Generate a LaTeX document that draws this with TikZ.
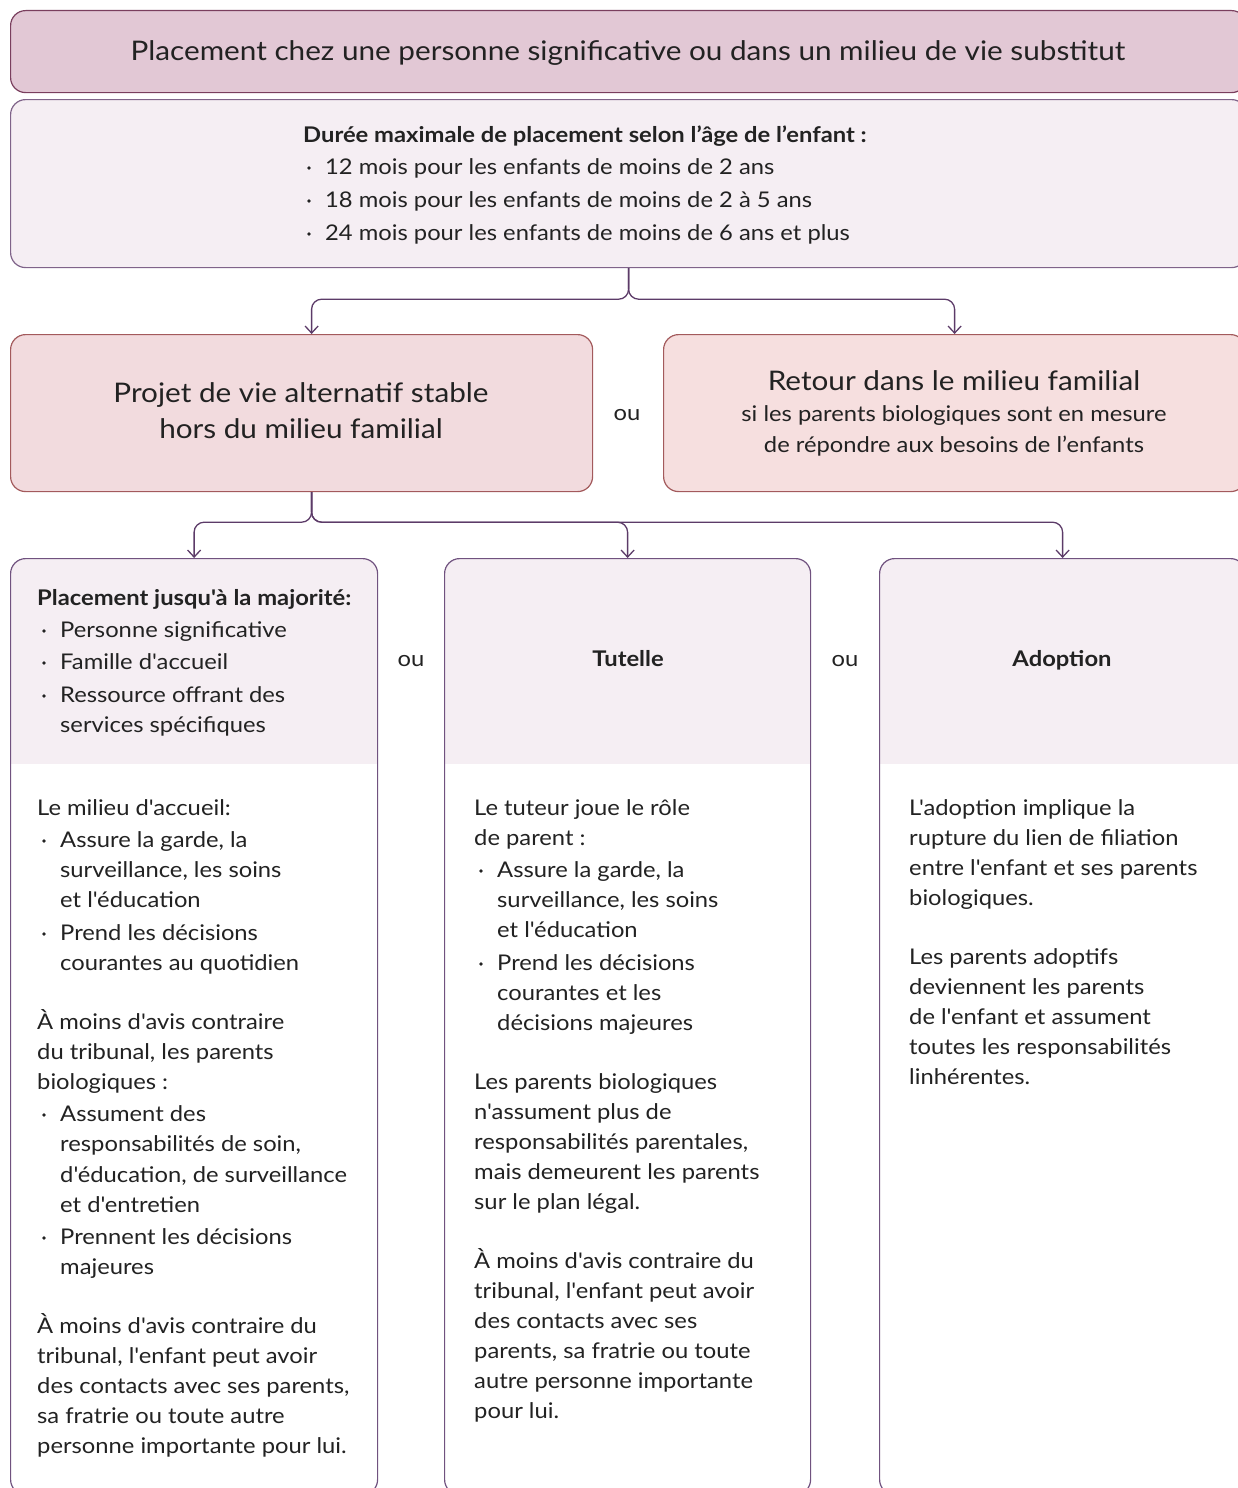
\documentclass[tikz,border=0pt]{standalone}
\usepackage{fontspec}
\setmainfont{Lato}[Ligatures=TeXOff, FakeStretch=1.1]
\usetikzlibrary{arrows.meta}

\definecolor{ink}{HTML}{222222}
\definecolor{titlefill}{HTML}{E2C8D5}
\definecolor{titleline}{HTML}{7A3F5E}
\definecolor{lightfill}{HTML}{F5EEF3}
\definecolor{lightline}{HTML}{7F6389}
\definecolor{rosefill}{HTML}{F2DBDE}
\definecolor{peachfill}{HTML}{F6DFDF}
\definecolor{roseline}{HTML}{A35A5C}
\definecolor{cardline}{HTML}{70527F}
\definecolor{connline}{HTML}{5C3B68}

\newcounter{lnno}
% plain text line, placed by its baseline
\newcommand\tl[3]{\stepcounter{lnno}\node[txt] (ln\arabic{lnno}) at (#1,#2) {#3};}
% bulleted text line
\newcommand\bl[3]{\stepcounter{lnno}%
  \node[bul] (bu\arabic{lnno}) at ({#1+7},{#2-6}) {};%
  \node[txt] (ln\arabic{lnno}) at ({#1+23},#2) {#3};}

\tikzset{
  boxbase/.style={draw, rounded corners=15pt, line width=1.2pt, inner sep=0pt, anchor=north west},
  titlebox/.style={boxbase, fill=titlefill, draw=titleline},
  infobox/.style={boxbase, fill=lightfill, draw=lightline},
  rosebox/.style={boxbase, fill=rosefill, draw=roseline},
  peachbox/.style={boxbase, fill=peachfill, draw=roseline},
  cardbox/.style={boxbase, fill=white, draw=cardline,
    path picture={\fill[lightfill, sharp corners] (path picture bounding box.north west)
      rectangle ([yshift=-205pt]path picture bounding box.north east);}},
  txt/.style={inner sep=0pt, anchor=base west, text=ink, font=\fontsize{21.6}{30}\selectfont},
  ctxt/.style={txt, anchor=base},
  big/.style={inner sep=0pt, anchor=base, text=ink, font=\fontsize{27}{36}\selectfont},
  bul/.style={circle, fill=ink, inner sep=0pt, minimum size=3.8pt},
  conn/.style={draw=connline, line width=1.3pt, rounded corners=10pt,
    -{Straight Barb[length=7pt,width=13pt,line width=1.3pt]}},
}

\begin{document}
\begin{tikzpicture}[x=1pt,y=-1pt]
\useasboundingbox (0,0) rectangle (1237,1488);

% ---- boxes ----
\node[titlebox, minimum width=1236pt, minimum height=82pt] (title) at (10,10) {};
\node[infobox, minimum width=1236pt, minimum height=168pt] (duree) at (10,99) {};
\node[rosebox, minimum width=582pt, minimum height=157pt] (projet) at (10,334) {};
\node[peachbox, minimum width=582pt, minimum height=157pt] (retour) at (663,334) {};
\node[cardbox, minimum width=367pt, minimum height=936pt] (placement) at (10,558) {};
\node[cardbox, minimum width=366pt, minimum height=936pt] (tutelle) at (444,558) {};
\node[cardbox, minimum width=366pt, minimum height=936pt] (adoption) at (879,558) {};

% ---- connectors ----
\draw[conn] (duree.south) -- ++(0,31) -| ([xshift=10pt]projet.north);
\draw[conn] (duree.south) -- ++(0,31) -| (retour.north);
\draw[conn] ([xshift=10pt]projet.south) -- ++(0,30) -| (placement.north);
\draw[conn] ([xshift=10pt]projet.south) -- ++(0,30) -| (tutelle.north);
\draw[conn] ([xshift=10pt]projet.south) -- ++(0,30) -| (adoption.north);

% ---- title ----
\node[big] (titletext) at (628,61) {Placement chez une personne significative ou dans un milieu de vie substitut};

% ---- maximum duration ----
\tl{303}{142}{\bfseries Durée maximale de placement selon l’âge de l’enfant :}
\bl{302}{174}{12 mois pour les enfants de moins de 2 ans}
\bl{302}{207}{18 mois pour les enfants de moins de 2 à 5 ans}
\bl{302}{240}{24 mois pour les enfants de moins de 6 ans et plus}

% ---- the two outcomes ----
\node[big] (projet1) at (301,402) {Projet de vie alternatif stable};
\node[big] (projet2) at (301,438) {hors du milieu familial};
\node[ctxt] (ou1) at (627,420) {ou};
\node[big] (retour1) at (954,390) {Retour dans le milieu familial};
\node[ctxt] (retour2) at (954,421) {si les parents biologiques sont en mesure};
\node[ctxt] (retour3) at (954,452) {de répondre aux besoins de l’enfants};

% ---- card headings ----
\node[ctxt] (ou2) at (411,666) {ou};
\node[ctxt] (ou3) at (845,666) {ou};
\node[ctxt] (tuthead) at (628,666) {\bfseries Tutelle};
\node[ctxt] (adophead) at (1062,666) {\bfseries Adoption};

% ---- placement until majority ----
\tl{37}{605}{\bfseries Placement jusqu'à la majorité:}
\bl{37}{637}{Personne significative}
\bl{37}{669}{Famille d'accueil}
\bl{37}{702}{Ressource offrant des}
\tl{60}{732}{services spécifiques}

\tl{37}{815}{Le milieu d'accueil:}
\bl{37}{847}{Assure la garde, la}
\tl{60}{877}{surveillance, les soins}
\tl{60}{907}{et l'éducation}
\bl{37}{940}{Prend les décisions}
\tl{60}{970}{courantes au quotidien}
\tl{37}{1029}{À moins d'avis contraire}
\tl{37}{1059}{du tribunal, les parents}
\tl{37}{1089}{biologiques :}
\bl{37}{1121}{Assument des}
\tl{60}{1151}{responsabilités de soin,}
\tl{60}{1182}{d'éducation, de surveillance}
\tl{60}{1212}{et d'entretien}
\bl{37}{1244}{Prennent les décisions}
\tl{60}{1274}{majeures}
\tl{37}{1333}{À moins d'avis contraire du}
\tl{37}{1363}{tribunal, l'enfant peut avoir}
\tl{37}{1393}{des contacts avec ses parents,}
\tl{37}{1423}{sa fratrie ou toute autre}
\tl{37}{1453}{personne importante pour lui.}

% ---- guardianship ----
\tl{474}{815}{Le tuteur joue le rôle}
\tl{474}{845}{de parent :}
\bl{474}{877}{Assure la garde, la}
\tl{497}{907}{surveillance, les soins}
\tl{497}{937}{et l'éducation}
\bl{474}{970}{Prend les décisions}
\tl{497}{1000}{courantes et les}
\tl{497}{1030}{décisions majeures}
\tl{474}{1089}{Les parents biologiques}
\tl{474}{1119}{n'assument plus de}
\tl{474}{1149}{responsabilités parentales,}
\tl{474}{1179}{mais demeurent les parents}
\tl{474}{1209}{sur le plan légal.}
\tl{474}{1268}{À moins d'avis contraire du}
\tl{474}{1298}{tribunal, l'enfant peut avoir}
\tl{474}{1328}{des contacts avec ses}
\tl{474}{1358}{parents, sa fratrie ou toute}
\tl{474}{1388}{autre personne importante}
\tl{474}{1418}{pour lui.}

% ---- adoption ----
\tl{909}{815}{L'adoption implique la}
\tl{909}{845}{rupture du lien de filiation}
\tl{909}{875}{entre l'enfant et ses parents}
\tl{909}{905}{biologiques.}
\tl{909}{964}{Les parents adoptifs}
\tl{909}{994}{deviennent les parents}
\tl{909}{1024}{de l'enfant et assument}
\tl{909}{1054}{toutes les responsabilités}
\tl{909}{1084}{linhérentes.}
\end{tikzpicture}
\end{document}
